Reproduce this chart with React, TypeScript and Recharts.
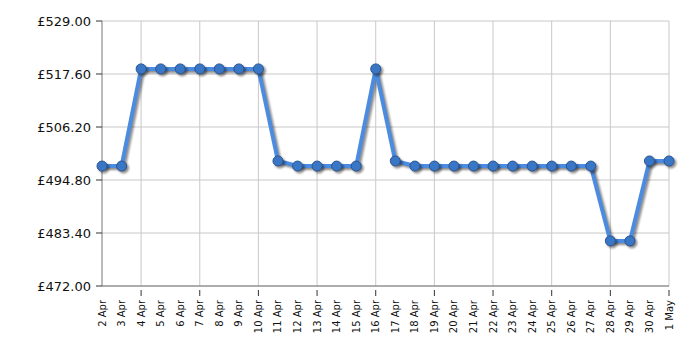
import { LineChart, Line, XAxis, YAxis, CartesianGrid, ReferenceLine } from 'recharts';

const dates = [
  '2 Apr', '3 Apr', '4 Apr', '5 Apr', '6 Apr', '7 Apr', '8 Apr', '9 Apr', '10 Apr', '11 Apr',
  '12 Apr', '13 Apr', '14 Apr', '15 Apr', '16 Apr', '17 Apr', '18 Apr', '19 Apr', '20 Apr', '21 Apr',
  '22 Apr', '23 Apr', '24 Apr', '25 Apr', '26 Apr', '27 Apr', '28 Apr', '29 Apr', '30 Apr', '1 May',
];

const prices = [
  497.8, 497.8, 518.7, 518.7, 518.7, 518.7, 518.7, 518.7, 518.7, 498.9,
  497.8, 497.8, 497.8, 497.8, 518.7, 498.9, 497.8, 497.8, 497.8, 497.8,
  497.8, 497.8, 497.8, 497.8, 497.8, 497.8, 481.7, 481.7, 498.9, 498.9,
];

const yTicks = [472, 483.4, 494.8, 506.2, 517.6, 529];

const gridDates = dates.filter((_, i) => i % 3 === 2);

const data = dates.map((date, i) => ({ date, price: prices[i] }));

const font = 'DejaVu Sans, Verdana, sans-serif';

const DateTick = (props: any) => {
  const { x, y, payload, index } = props;
  const major = index % 3 === 2;
  return (
    <g>
      {major && <line x1={x} y1={y - 4} x2={x} y2={y + 2} stroke="#333" strokeWidth={1} />}
      <text
        x={x}
        y={y + 6}
        transform={`rotate(-90 ${x} ${y + 6})`}
        textAnchor="end"
        dominantBaseline="central"
        fontSize={10}
        fontFamily={font}
        fill="#111"
      >
        {payload.value}
      </text>
    </g>
  );
};

const App = () => {
  return (
    <div style={{ position: 'absolute', left: 0, top: 0, width: 700, height: 350 }}>
      <style>{`.recharts-line-curve, .recharts-line-dots { filter: drop-shadow(2px 2px 1px rgba(0,0,0,0.45)); }`}</style>
      <LineChart width={700} height={350} data={data} margin={{ top: 21, right: 31, bottom: 0, left: 0 }}>
        <CartesianGrid stroke="#c8c8c8" vertical={false} />
        {gridDates.map((d) => (
          <ReferenceLine key={d} x={d} stroke="#c8c8c8" ifOverflow="extendDomain" />
        ))}
        <XAxis
          dataKey="date"
          interval={0}
          tick={<DateTick />}
          tickLine={false}
          axisLine={{ stroke: '#777' }}
          height={64}
          padding={{ left: 0, right: 0 }}
        />
        <YAxis
          domain={[472, 529]}
          ticks={yTicks}
          tickFormatter={(v: number) => `£${v.toFixed(2)}`}
          width={102}
          tick={{ fontSize: 13, fontFamily: font, fill: '#111' }}
          tickLine={{ stroke: '#333' }}
          tickSize={6}
          tickMargin={5}
          axisLine={{ stroke: '#777' }}
          interval={0}
        />
        <Line
          type="linear"
          dataKey="price"
          stroke="#4b8be0"
          strokeWidth={4}
          dot={{ r: 5, fill: '#3a76c6', stroke: '#2a5590', strokeWidth: 1 }}
          isAnimationActive={false}
        />
      </LineChart>
    </div>
  );
};

export default App;
